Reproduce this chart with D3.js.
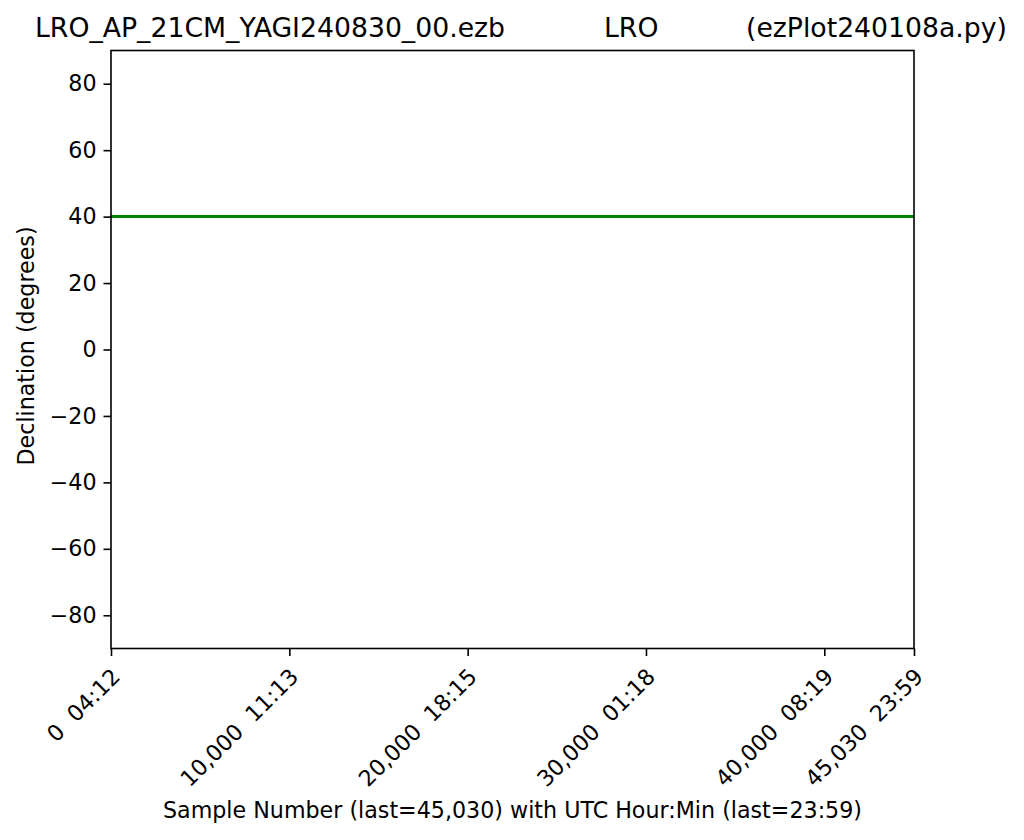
<!DOCTYPE html>
<html>
<head>
<meta charset="utf-8">
<script src="https://cdn.jsdelivr.net/npm/d3@7"></script>
<style>
  body { margin: 0; background: #fff; }
  svg text { font-family: "DejaVu Sans", sans-serif; white-space: pre; }
</style>
</head>
<body>
<svg id="chart" width="1024" height="840"></svg>
<script>
// ---- data ----
const sampleNumbers = [0, 45030];
const declination = [40, 40];
const xTickValues = [0, 10000, 20000, 30000, 40000, 45030];
const xTickTimes = ["04:12", "11:13", "18:15", "01:18", "08:19", "23:59"];
const yTickValues = [-80, -60, -40, -20, 0, 20, 40, 60, 80];
const titleParts = ["LRO_AP_21CM_YAGI240830_00.ezb", "LRO", "(ezPlot240108a.py)"];
const xLabel = "Sample Number (last=45,030) with UTC Hour:Min (last=23:59)";
const yLabel = "Declination (degrees)";

// ---- layout ----
const L = 111, R = 914, T = 50.5, B = 648.5;
const FS = 22.2, TFS = 26.7;
const svg = d3.select("#chart");
svg.append("rect").attr("width", 1024).attr("height", 840).attr("fill", "#fff");

const x = d3.scaleLinear().domain([0, 45030]).range([L, R]);
const y = d3.scaleLinear().domain([-90, 90]).range([B, T]);

// line
const pts = sampleNumbers.map((s, i) => [s, declination[i]]);
svg.append("path")
  .datum(pts)
  .attr("fill", "none")
  .attr("stroke", "#008000")
  .attr("stroke-width", 3)
  .attr("d", d3.line().x(d => x(d[0])).y(d => y(d[1])));

// y axis
const yAxis = svg.append("g").attr("transform", `translate(${L},0)`)
  .call(d3.axisLeft(y).tickValues(yTickValues).tickSize(7.5).tickPadding(7).tickFormat(d3.format("d")));
yAxis.select(".domain").remove();
yAxis.selectAll("line").attr("stroke", "#000").attr("stroke-width", 1.6);
yAxis.selectAll("text").attr("font-size", FS).attr("fill", "#000").attr("font-family", "DejaVu Sans");

// x axis
const xAxis = svg.append("g").attr("transform", `translate(0,${B})`)
  .call(d3.axisBottom(x).tickValues(xTickValues).tickSize(7.5).tickFormat(""));
xAxis.select(".domain").remove();
xAxis.selectAll("line").attr("stroke", "#000").attr("stroke-width", 1.6);

const fmtComma = d3.format(",");
svg.append("g").selectAll("text")
  .data(xTickValues)
  .join("text")
  .attr("transform", d => `translate(${x(d) + 10.5},${678}) rotate(-45)`)
  .attr("text-anchor", "end")
  .attr("font-size", FS)
  .attr("fill", "#000")
  .text((d, i) => fmtComma(d) + "  " + xTickTimes[i]);

// frame
svg.append("rect")
  .attr("x", L).attr("y", T).attr("width", R - L).attr("height", B - T)
  .attr("fill", "none").attr("stroke", "#000").attr("stroke-width", 1.6);

// axis labels
svg.append("text")
  .attr("x", (L + R) / 2).attr("y", 818)
  .attr("text-anchor", "middle").attr("font-size", FS).attr("fill", "#000")
  .text(xLabel);
svg.append("text")
  .attr("transform", `translate(34,346) rotate(-90)`)
  .attr("text-anchor", "middle").attr("font-size", FS).attr("fill", "#000")
  .text(yLabel);

// title
const titleY = 37;
svg.append("text").attr("x", 35).attr("y", titleY).attr("font-size", TFS).attr("fill", "#000").text(titleParts[0]);
svg.append("text").attr("x", 604).attr("y", titleY).attr("font-size", TFS).attr("fill", "#000").text(titleParts[1]);
svg.append("text").attr("x", 1007).attr("y", titleY).attr("text-anchor", "end").attr("font-size", TFS).attr("fill", "#000").text(titleParts[2]);
</script>
</body>
</html>
